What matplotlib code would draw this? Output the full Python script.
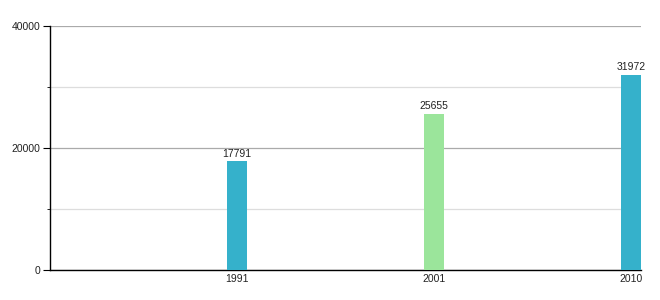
import matplotlib
matplotlib.use("Agg")
import matplotlib.pyplot as plt
from matplotlib.ticker import MultipleLocator

years = ["1991", "2001", "2010"]
values = [17791, 25655, 31972]
colors = ["#35b1cb", "#9be59b", "#35b1cb"]

plt.rcParams['font.family'] = ['Liberation Sans', 'DejaVu Sans']

fig = plt.figure(figsize=(6.6, 3.0), dpi=100)
ax = fig.add_axes([50/660, 30/300, 591/660, 244/300])

x = list(range(len(years)))
bars = ax.bar(x, values, width=0.1, color=colors, zorder=3)
for xi, v in zip(x, values):
    ax.annotate(str(v), (xi, v), xytext=(0, 2), textcoords="offset points",
                ha="center", va="bottom", fontsize=7.5, color="#222222", zorder=4)

ax.set_xlim(-0.95, 2.05)
ax.set_ylim(0, 40000)
ax.set_xticks(x)
ax.set_xticklabels(years)
ax.yaxis.set_major_locator(MultipleLocator(20000))
ax.yaxis.set_minor_locator(MultipleLocator(10000))
ax.grid(axis="y", which="major", color="#aaaaaa", linewidth=0.9, zorder=0)
ax.grid(axis="y", which="minor", color="#dddddd", linewidth=0.9, zorder=0)
for s in ["top", "right"]:
    ax.spines[s].set_visible(False)
ax.spines["left"].set_color("black")
ax.spines["bottom"].set_color("black")
ax.spines["left"].set_linewidth(1.0)
ax.spines["bottom"].set_linewidth(1.0)
ax.tick_params(axis="x", length=0, labelsize=7.5, pad=3, colors="#222222")
ax.tick_params(axis="y", which="major", length=5, labelsize=7.5, pad=2, colors="#222222")
ax.tick_params(axis="y", which="minor", length=2.5)
ax.tick_params(axis="y", which="both", color="black")

fig.savefig("out.png", dpi=100)
